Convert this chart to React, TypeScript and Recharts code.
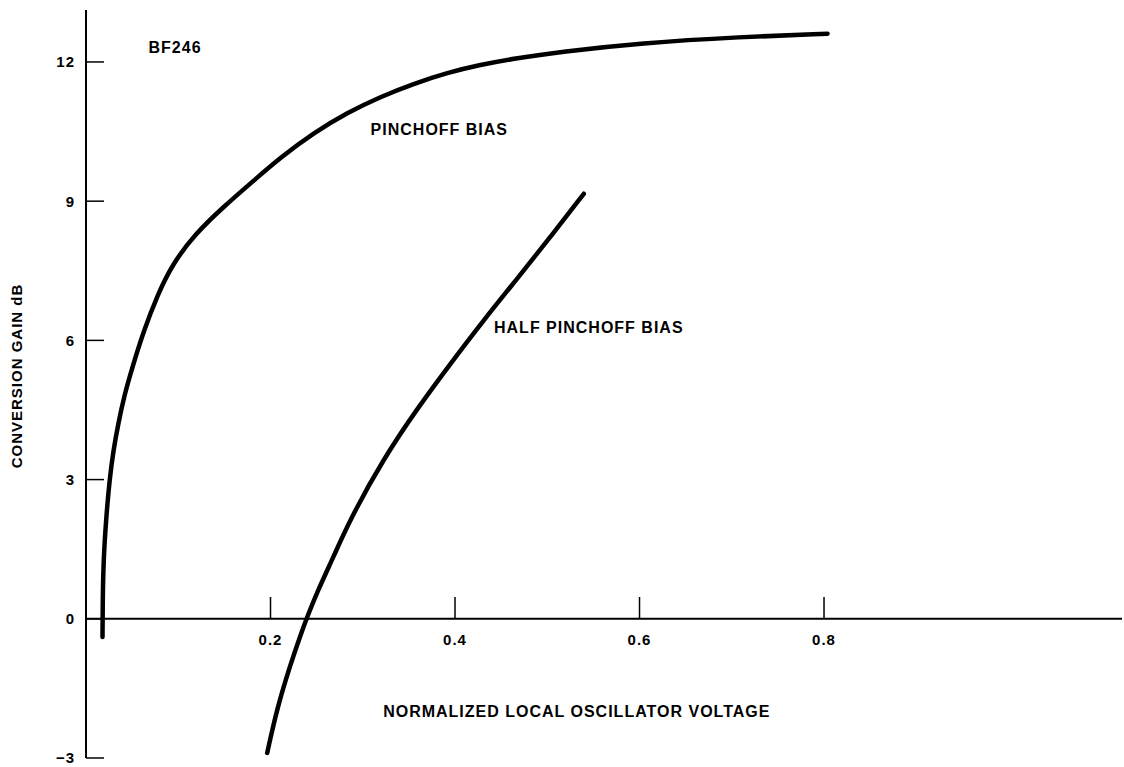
import React from "react";
import { LineChart, Line, XAxis, YAxis, ReferenceLine, ReferenceDot } from "recharts";

// conversion gain (dB) vs normalized LO voltage
const pinchX = [0.0179, 0.0181, 0.019, 0.0217, 0.0255, 0.0298, 0.0347, 0.0417, 0.0504, 0.0623, 0.0775, 0.0938, 0.1187, 0.148, 0.1816, 0.2108, 0.2466, 0.2835, 0.3192, 0.355, 0.3919, 0.4276, 0.4634, 0.5144, 0.6011, 0.7095, 0.8038];
const pinchY = [-0.39, 0.41, 1.27, 2.13, 3.0, 3.64, 4.18, 4.83, 5.43, 6.19, 6.98, 7.65, 8.3, 8.86, 9.44, 9.94, 10.47, 10.91, 11.25, 11.53, 11.77, 11.94, 12.07, 12.22, 12.41, 12.54, 12.61];

const halfX = [0.1964, 0.2072, 0.2217, 0.2325, 0.2398, 0.2506, 0.2686, 0.2867, 0.3228, 0.359, 0.3951, 0.4312, 0.4674, 0.5035, 0.5396];
const halfY = [-2.89, -1.92, -0.98, -0.35, 0.04, 0.58, 1.35, 2.16, 3.46, 4.53, 5.5, 6.44, 7.33, 8.23, 9.16];

const xTicks = [0.2, 0.4, 0.6, 0.8];
const yTicks = [-3, 0, 3, 6, 9, 12];

const pinchData = pinchX.map((x, i) => ({ x, y: pinchY[i] }));
const halfData = halfX.map((x, i) => ({ x, y: halfY[i] }));

const fmtY = (v: number) => (v < 0 ? `\u2212${-v}` : `${v}`);

export default function App() {
  return (
    <div
      style={{
        position: "absolute",
        left: 0,
        top: 0,
        fontFamily: "'Liberation Sans', Arial, sans-serif",
        fontWeight: 700,
        letterSpacing: "1px",
      }}
    >
      <LineChart width={1124} height={767} margin={{ top: 10, right: 2, bottom: 9, left: 0 }}>
        <XAxis type="number" dataKey="x" domain={[0, 1.123]} hide allowDataOverflow />
        <YAxis
          type="number"
          domain={[-3, 13.12]}
          ticks={yTicks}
          width={86}
          tickSize={0}
          tickMargin={11}
          tickLine={false}
          allowDataOverflow
          axisLine={{ stroke: "#000", strokeWidth: 2 }}
          tick={{ fill: "#000", fontSize: 15 }}
          tickFormatter={fmtY}
          label={{
            value: "CONVERSION GAIN dB",
            angle: -90,
            position: "insideLeft",
            offset: 17,
            dy: -8,
            fontSize: 15,
            fill: "#000",
            style: { textAnchor: "middle" },
          }}
        />

        {/* horizontal axis sits at 0 dB */}
        <ReferenceLine y={0} stroke="#000" strokeWidth={2} />

        {/* x ticks point up, labels below */}
        {xTicks.map((t) => (
          <ReferenceLine
            key={"x" + t}
            segment={[{ x: t, y: 0 }, { x: t, y: 0.47 }]}
            stroke="#000"
            strokeWidth={1.5}
            label={{ value: `${t}`, position: "bottom", offset: 16, fontSize: 15, fill: "#000" }}
          />
        ))}

        {/* y ticks point inward */}
        {yTicks.map((t) => (
          <ReferenceLine
            key={"y" + t}
            segment={[{ x: 0, y: t }, { x: 0.0195, y: t }]}
            stroke="#000"
            strokeWidth={1.5}
          />
        ))}

        <Line
          data={pinchData}
          dataKey="y"
          type="basis"
          stroke="#000"
          strokeWidth={4.5}
          strokeLinecap="round"
          dot={false}
          isAnimationActive={false}
        />
        <Line
          data={halfData}
          dataKey="y"
          type="basis"
          stroke="#000"
          strokeWidth={4.5}
          strokeLinecap="round"
          dot={false}
          isAnimationActive={false}
        />

        <ReferenceDot x={0.0965} y={12.31} r={0} fill="none" stroke="none"
          label={{ value: "BF246", position: "center", fontSize: 16, fill: "#000" }} />
        <ReferenceDot x={0.383} y={10.54} r={0} fill="none" stroke="none"
          label={{ value: "PINCHOFF BIAS", position: "center", fontSize: 16, fill: "#000" }} />
        <ReferenceDot x={0.545} y={6.29} r={0} fill="none" stroke="none"
          label={{ value: "HALF PINCHOFF BIAS", position: "center", fontSize: 16, fill: "#000" }} />
        <ReferenceDot x={0.532} y={-2.0} r={0} fill="none" stroke="none"
          label={{ value: "NORMALIZED LOCAL OSCILLATOR VOLTAGE", position: "center", fontSize: 16, fill: "#000" }} />
      </LineChart>
    </div>
  );
}
